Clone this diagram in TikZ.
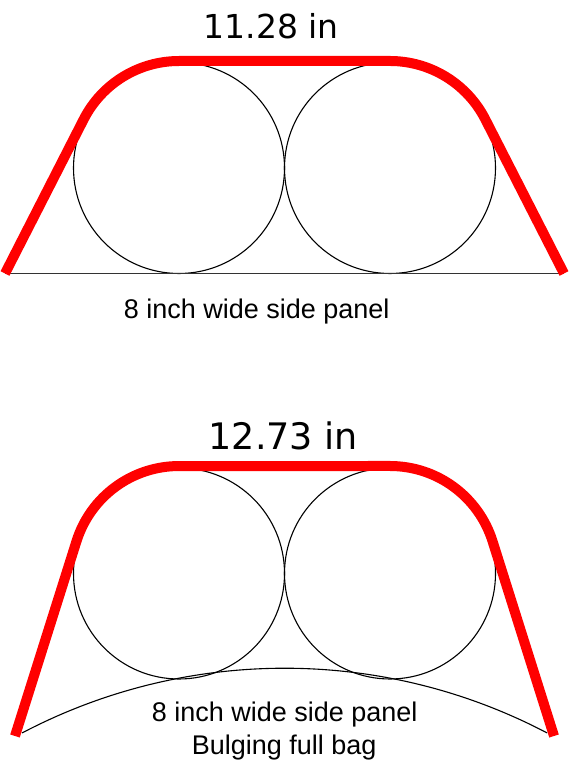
\documentclass[tikz,border=0pt]{standalone}
\usepackage{fontspec}
\setmainfont{Liberation Sans}
\newfontfamily\titlefont{DejaVu Sans}
\begin{document}
\begin{tikzpicture}[x=1pt,y=1pt,
  bag/.style={draw=red,line width=10pt,line cap=butt,line join=round},
  tube/.style={draw=black,line width=1.1pt},
  panel/.style={draw=black!80,line width=1.5pt},
  bulge/.style={draw=black,line width=1.1pt},
  ttl/.style={anchor=base,inner sep=0pt,font=\titlefont\fontsize{33}{40}\selectfont},
  ttlb/.style={anchor=base,inner sep=0pt,font=\titlefont\fontsize{36.5}{44}\selectfont},
  lbl/.style={anchor=base,inner sep=0pt,font=\fontsize{27}{32}\selectfont}]
\useasboundingbox (0,0) rectangle (573,768);
\fill[white] (0,0) rectangle (573,768);
% ---------- top figure ----------
\coordinate (tl) at (5,494.5);
\coordinate (tr) at (564,494.5);
\draw[tube] (179,600) circle[radius=105.5];
\draw[tube] (390,600) circle[radius=105.5];
\draw[panel] (tl) -- (tr);
\draw[bag] (5,494.5) -- (83.6,648.5) arc[start angle=153.04,end angle=90,radius=107]
  -- (390,707) arc[start angle=90,end angle=26.96,radius=107] -- (564,494.5);
\node[ttl] (t1) at (271.4,729.7) {11.28 in};
\node[lbl] (l1) at (256.7,449.7) {8 inch wide side panel};
% ---------- bottom figure ----------
\draw[tube] (179,194.5) circle[radius=105.5];
\draw[tube] (390,194.5) circle[radius=105.5];
\draw[bulge] (22,35) arc[start angle=117.72,end angle=62.28,radius=564.6];
\draw[bag] (15,32) -- (76.5,226.8) arc[start angle=162.49,end angle=90,radius=107.5]
  -- (390,302) arc[start angle=90,end angle=17.51,radius=107.5] -- (554,32);
\node[ttlb] (t2) at (283.3,318) {12.73 in};
\node[lbl] (l2) at (284.7,46.3) {8 inch wide side panel};
\node[lbl] (l3) at (284.2,13) {Bulging full bag};
\end{tikzpicture}
\end{document}
